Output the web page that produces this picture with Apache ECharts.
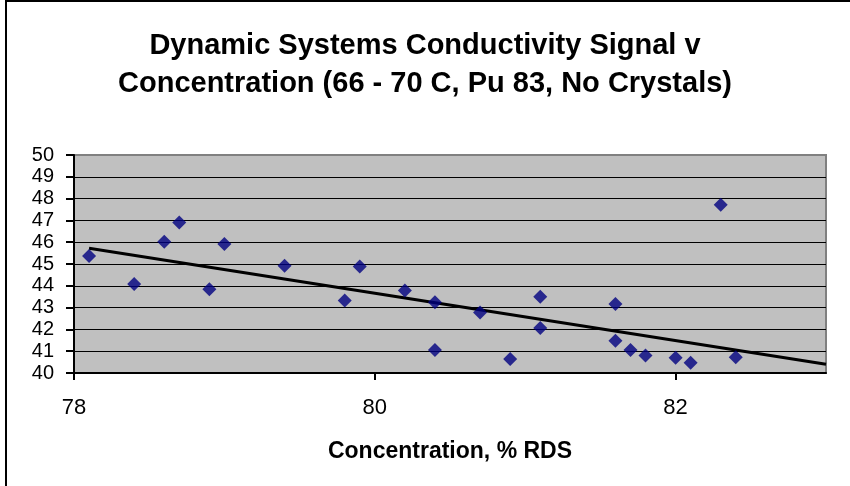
<!DOCTYPE html>
<html>
<head>
<meta charset="utf-8">
<script src="https://cdn.jsdelivr.net/npm/echarts@6/dist/echarts.min.js"></script>
<style>
  html, body { margin: 0; padding: 0; background: #fff; }
  #chart { width: 850px; height: 486px; }
</style>
</head>
<body>
<div id="chart"></div>
<script>
// concentration (% RDS) and conductivity signal
const concentration = [78.1, 78.4, 78.6, 78.7, 78.9, 79.0, 79.4, 79.8, 79.9, 80.2, 80.4, 80.4,
  80.7, 80.9, 81.1, 81.1, 81.6, 81.6, 81.7, 81.8, 82.0, 82.1, 82.3, 82.4];
const signal = [45.37, 44.08, 46.02, 46.9, 43.84, 45.92, 44.92, 43.32, 44.88, 43.78, 43.24, 41.05,
  42.77, 40.64, 43.5, 42.06, 43.17, 41.48, 41.05, 40.8, 40.7, 40.47, 47.72, 40.72];

// linear trendline end points
const trendX = [78.1, 83];
const trendY = [45.72, 40.4];

const xTicks = [78, 80, 82];

const font = '"Liberation Sans", Arial, sans-serif';

const chart = echarts.init(document.getElementById('chart'));

const points = concentration.map((c, i) => [c, signal[i]]);
const trend = trendX.map((x, i) => [x, trendY[i]]);

// top gridline is the grey plot border
const splitColors = [];
for (let v = 40; v <= 50; v++) splitColors.push(v === 50 ? '#808080' : '#000000');

chart.setOption({
  animation: false,
  backgroundColor: '#ffffff',
  title: {
    text: 'Dynamic Systems Conductivity Signal v\nConcentration (66 - 70 C, Pu 83, No Crystals)',
    left: 'center',
    top: 22,
    textStyle: {
      fontFamily: font,
      fontWeight: 'bold',
      fontSize: 29,
      lineHeight: 38,
      color: '#000'
    }
  },
  graphic: [{
    type: 'rect',
    shape: {x: 6, y: 1, width: 900, height: 600},
    style: {fill: 'none', stroke: '#000', lineWidth: 2},
    silent: true
  }],
  grid: {
    left: 74,
    right: 24,
    top: 155,
    bottom: 113,
    show: true,
    backgroundColor: '#C0C0C0',
    borderColor: '#808080',
    borderWidth: 2
  },
  xAxis: {
    type: 'value',
    min: 78,
    max: 83,
    interval: 2,
    name: 'Concentration, % RDS',
    nameLocation: 'middle',
    nameGap: 67,
    nameTextStyle: {fontFamily: font, fontWeight: 'bold', fontSize: 23, color: '#000'},
    axisLine: {show: true, lineStyle: {color: '#000', width: 2}},
    axisTick: {show: true, inside: false, length: 7, lineStyle: {color: '#000', width: 2}},
    axisLabel: {
      fontFamily: font,
      fontSize: 22,
      color: '#000',
      margin: 24,
      showMaxLabel: false,
      formatter: v => (xTicks.includes(v) ? String(v) : '')
    },
    splitLine: {show: false}
  },
  yAxis: {
    type: 'value',
    min: 40,
    max: 50,
    interval: 1,
    axisLine: {show: true, lineStyle: {color: '#000', width: 2}},
    axisTick: {show: true, inside: false, length: 8, lineStyle: {color: '#000', width: 2}},
    axisLabel: {fontFamily: font, fontSize: 20, color: '#000', margin: 20},
    splitLine: {show: true, lineStyle: {color: splitColors, width: 1}}
  },
  series: [
    {
      type: 'line',
      data: trend,
      symbol: 'none',
      lineStyle: {color: '#000', width: 3},
      z: 2
    },
    {
      type: 'scatter',
      data: points,
      symbol: 'diamond',
      symbolSize: 14,
      itemStyle: {color: '#000080'},
      z: 3
    }
  ]
});
</script>
</body>
</html>
